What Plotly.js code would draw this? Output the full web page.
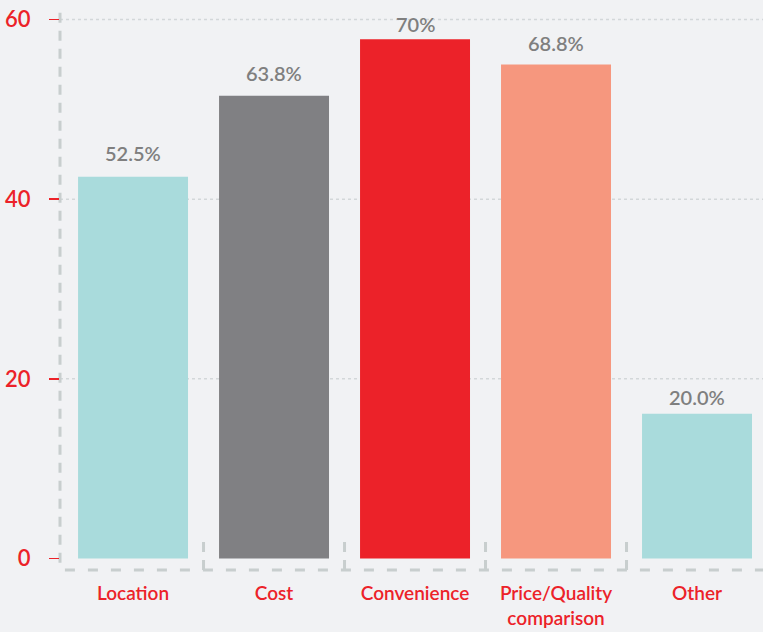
<!DOCTYPE html>
<html>
<head>
<meta charset="utf-8">
<script src="https://cdn.plot.ly/plotly-3.0.1.min.js"></script>
<style>html,body{margin:0;padding:0;background:#f1f2f4;}#chart{width:763px;height:632px;}</style>
</head>
<body>
<div id="chart"></div>
<script>
const categories = ["Location", "Cost", "Convenience", "Price/Quality<br>comparison", "Other"];
const values = [42.5, 51.5, 57.8, 55.0, 16.1];
const valueLabels = ["52.5%", "63.8%", "70%", "68.8%", "20.0%"];
const barColors = ["#a9dbdc", "#808083", "#ec2229", "#f6977e", "#a9dbdc"];
const yTicks = [0, 20, 40, 60];

const red = "#ec2229";
const dashGrey = "#c8cece";
// label offsets above bars (pixels), styling only
const labelShift = [10, 9, 1, 7, 3];

const trace = {
  type: "bar",
  x: categories,
  y: values,
  marker: {color: barColors},
  width: 0.78,
  hoverinfo: "none"
};

const annotations = categories.map((c, i) => ({
  x: c, y: values[i], xref: "x", yref: "y",
  text: valueLabels[i], showarrow: false,
  yanchor: "bottom", yshift: labelShift[i],
  font: {family: "Lato, sans-serif", size: 20, color: "#7f7f7f", weight: 600}
}));

const shapes = [];
yTicks.filter(v => v > 0).forEach(v => shapes.push({
  type: "line", xref: "paper", yref: "y", x0: 0, x1: 1, y0: v, y1: v,
  line: {color: "#d3d7d9", width: 1.5, dash: "dot"}, layer: "below"
}));
shapes.push({type: "line", xref: "paper", yref: "paper", x0: 0, x1: 0, y0: 0.013, y1: 1,
  line: {color: dashGrey, width: 3, dash: "10px,8px"}, layer: "below"});
shapes.push({type: "line", xref: "paper", yref: "paper", x0: 0.007, x1: 1, y0: 0, y1: 0,
  line: {color: dashGrey, width: 3, dash: "10px,13px"}, layer: "below"});
[0.5, 1.5, 2.5, 3.5].forEach(b => shapes.push({
  type: "line", xref: "x", yref: "paper", x0: b, x1: b, y0: 0, y1: 0.057,
  line: {color: dashGrey, width: 3, dash: "10px,8px"}, layer: "below"
}));

const layout = {
  width: 763, height: 632,
  margin: {l: 60, r: 0, t: 8, b: 62},
  paper_bgcolor: "#f1f2f4",
  plot_bgcolor: "#f1f2f4",
  showlegend: false,
  xaxis: {
    range: [-0.518, 4.468],
    showgrid: false, zeroline: false, showline: false, ticks: "",
    tickfont: {family: "Lato, sans-serif", size: 19, color: red, weight: 600},
    ticklabelstandoff: 10,
    fixedrange: true
  },
  yaxis: {
    range: [-1.28, 61.28],
    tickvals: yTicks,
    showgrid: false, zeroline: false, showline: false,
    ticks: "outside", ticklen: 10, tickwidth: 1.5, tickcolor: red,
    tickfont: {family: "Lato, sans-serif", size: 22, color: red, weight: 600},
    ticklabelstandoff: 14,
    fixedrange: true
  },
  shapes: shapes,
  annotations: annotations
};

Plotly.newPlot("chart", [trace], layout, {displayModeBar: false, staticPlot: true});
</script>
</body>
</html>
